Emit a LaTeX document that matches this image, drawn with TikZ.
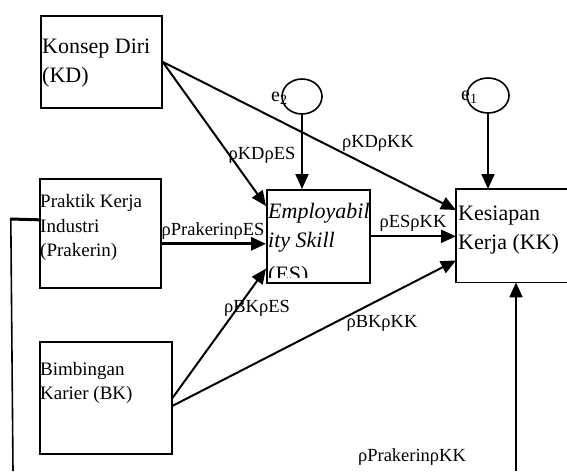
\documentclass[tikz,border=0pt]{standalone}
\usepackage{fontspec}
\setmainfont{Liberation Serif}
\usetikzlibrary{arrows.meta,shapes.geometric}
\begin{document}
\begin{tikzpicture}[x=1pt,y=-1pt,
  boxline/.style={line width=1.6pt},
  box/.style={boxline, draw, inner sep=0pt, anchor=north west},
  bigtxt/.style={font=\fontsize{22}{29}\selectfont, inner sep=0pt, anchor=base west},
  smalltxt/.style={font=\fontsize{19}{24}\selectfont, inner sep=0pt, anchor=base west},
  lbl/.style={font=\fontsize{18.5}{22}\selectfont, inner sep=0pt},
  elbl/.style={font=\fontsize{20}{22}\selectfont, inner sep=0pt, anchor=base west},
  arr/.style={line width=2pt, -{Triangle[length=15pt,width=13pt]}},
  err/.style={draw, ellipse, line width=1.6pt, minimum width=40pt, minimum height=35pt, inner sep=0pt}
]
\useasboundingbox (0,0) rectangle (567,471);

% boxes
\node[box, minimum width=121pt, minimum height=92pt] (kd) at (40,15) {};
\node[box, minimum width=121pt, minimum height=109pt] (pk) at (39,178) {};
\node[box, minimum width=132pt, minimum height=112pt] (bk) at (39,341) {};
\node[box, minimum width=103pt, minimum height=93pt] (es) at (266,189) {};
\node[inner sep=0pt, minimum width=112pt, minimum height=93pt, anchor=north west] (kk) at (456,189) {};
\draw[boxline] (kk.north east) -- (kk.north west) -- (kk.south west) -- (kk.south east);

% error terms
\node[err] (e2) at (302,96.5) {};
\node[err, minimum width=42pt] (e1) at (488,95.5) {};
\node[elbl] (e2l) at (271,101) {e\textsubscript{2}};
\node[elbl] (e1l) at (461,100) {e\textsubscript{1}};

% box texts
\node[bigtxt] (kdt1) at (42,53) {Konsep Diri};
\node[bigtxt] (kdt2) at (42,82) {(KD)};
\node[smalltxt] (pkt1) at (40,207) {Praktik Kerja};
\node[smalltxt] (pkt2) at (40,232) {Industri};
\node[smalltxt] (pkt3) at (40,256) {(Prakerin)};
\node[smalltxt] (bkt1) at (40,375) {Bimbingan};
\node[smalltxt] (bkt2) at (40,399) {Karier (BK)};
\node[bigtxt] (kkt1) at (458,220) {Kesiapan};
\node[bigtxt] (kkt2) at (458,249) {Kerja (KK)};
\begin{scope}
  \clip (es.north west) rectangle ([yshift=6pt]es.south east);
  \node[bigtxt, font=\fontsize{22}{29}\selectfont\itshape] (est1) at (268,218) {Employabil};
  \node[bigtxt, font=\fontsize{22}{29}\selectfont\itshape] (est2) at (268,247) {ity Skill};
  \node[bigtxt] (est3) at (268,281) {(ES)};
\end{scope}

% connectors
\draw[arr] (kd.east) -- ([yshift=-17pt]es.north west);
\draw[arr] (kd.east) -- ([yshift=-21pt]kk.north west);
\draw[arr] (e2.south) -- (e2.south |- es.north);
\draw[arr] (e1.south) -- (e1.south |- kk.north);
\draw[arr, line width=3pt] ([yshift=-10.5pt]pk.east) -- ([yshift=-10.5pt]pk.east -| es.west);
\draw[arr] (es.east) -- (es.east -| kk.west);
\draw[arr] (bk.east) -- ([yshift=15pt]es.south west);
\draw[arr] ([yshift=-8pt]bk.east) -- ([yshift=22pt]kk.south west);
\coordinate (bot) at (516,471);
\draw[arr] (bot) -- (bot |- kk.south);
\coordinate (lt1) at (10,219);
\coordinate (lt2) at (13,471);
\draw[line width=3pt] ([yshift=13.5pt]pk.west) -- (lt1);
\draw[line width=1.6pt] ([xshift=0.8pt]lt1) -- (lt2);

% labels
\node[lbl] (l1) at (262,155) {ρKDρES};
\node[lbl] (l2) at (378,143) {ρKDρKK};
\node[lbl] (l3) at (413,223) {ρESρKK};
\node[lbl] (l4) at (213,231) {ρPrakerinρES};
\node[lbl] (l5) at (257,308) {ρBKρES};
\node[lbl] (l6) at (382,323) {ρBKρKK};
\node[lbl] (l7) at (412,457) {ρPrakerinρKK};
\end{tikzpicture}
\end{document}
